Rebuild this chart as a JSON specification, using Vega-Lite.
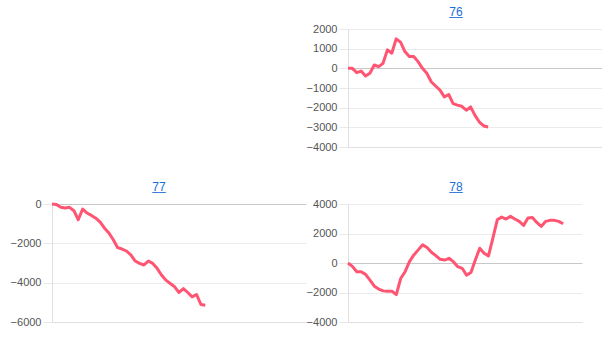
{
  "$schema": "https://vega.github.io/schema/vega-lite/v6.json",
  "padding": {"left": 10, "top": 5, "right": 0, "bottom": 0},
  "background": "white",
  "config": {
    "view": {"stroke": null},
    "font": "Liberation Sans",
    "title": {"fontSize": 12, "fontWeight": "normal", "color": "#1a6fd8", "offset": 3, "subtitleFontSize": 12, "subtitleColor": "#1a6fd8", "subtitlePadding": -13},
    "axis": {"labelFont": "Liberation Sans", "labelFontSize": 11, "labelColor": "#555555", "domainColor": "#e0e0e0", "ticks": true, "tickSize": 9, "tickColor": "#e8e8e8", "labelPadding": 2, "title": null, "format": "d", "labelOverlap": false,
      "gridColor": {"condition": {"test": "datum.value === 0", "value": "#c8c8c8"}, "value": "#ebebeb"}}
  },
  "datasets": {
    "d76": [
      {"g": 0, "v": 0}, {"g": 1, "v": 0}, {"g": 2, "v": -220}, {"g": 3, "v": -140}, {"g": 4, "v": -390},
      {"g": 5, "v": -250}, {"g": 6, "v": 170}, {"g": 7, "v": 85}, {"g": 8, "v": 255}, {"g": 9, "v": 940},
      {"g": 10, "v": 770}, {"g": 11, "v": 1500}, {"g": 12, "v": 1330}, {"g": 13, "v": 850}, {"g": 14, "v": 600},
      {"g": 15, "v": 600}, {"g": 16, "v": 340}, {"g": 17, "v": 0}, {"g": 18, "v": -250}, {"g": 19, "v": -680},
      {"g": 20, "v": -900}, {"g": 21, "v": -1110}, {"g": 22, "v": -1450}, {"g": 23, "v": -1330}, {"g": 24, "v": -1790},
      {"g": 25, "v": -1870}, {"g": 26, "v": -1930}, {"g": 27, "v": -2130}, {"g": 28, "v": -1960}, {"g": 29, "v": -2390},
      {"g": 30, "v": -2730}, {"g": 31, "v": -2930}, {"g": 32, "v": -2980}
    ],
    "d77": [
      {"g": 0, "v": 0}, {"g": 1, "v": -30}, {"g": 2, "v": -170}, {"g": 3, "v": -200}, {"g": 4, "v": -170},
      {"g": 5, "v": -340}, {"g": 6, "v": -800}, {"g": 7, "v": -255}, {"g": 8, "v": -460}, {"g": 9, "v": -580},
      {"g": 10, "v": -720}, {"g": 11, "v": -920}, {"g": 12, "v": -1230}, {"g": 13, "v": -1480}, {"g": 14, "v": -1820},
      {"g": 15, "v": -2220}, {"g": 16, "v": -2290}, {"g": 17, "v": -2390}, {"g": 18, "v": -2590}, {"g": 19, "v": -2900},
      {"g": 20, "v": -3020}, {"g": 21, "v": -3100}, {"g": 22, "v": -2900}, {"g": 23, "v": -3020}, {"g": 24, "v": -3270},
      {"g": 25, "v": -3610}, {"g": 26, "v": -3870}, {"g": 27, "v": -4040}, {"g": 28, "v": -4210}, {"g": 29, "v": -4500},
      {"g": 30, "v": -4300}, {"g": 31, "v": -4500}, {"g": 32, "v": -4720}, {"g": 33, "v": -4600}, {"g": 34, "v": -5110},
      {"g": 35, "v": -5150}
    ],
    "d78": [
      {"g": 0, "v": 0}, {"g": 1, "v": -230}, {"g": 2, "v": -590}, {"g": 3, "v": -590}, {"g": 4, "v": -770},
      {"g": 5, "v": -1160}, {"g": 6, "v": -1570}, {"g": 7, "v": -1770}, {"g": 8, "v": -1890}, {"g": 9, "v": -1910},
      {"g": 10, "v": -1910}, {"g": 11, "v": -2140}, {"g": 12, "v": -1050}, {"g": 13, "v": -590}, {"g": 14, "v": 90},
      {"g": 15, "v": 550}, {"g": 16, "v": 890}, {"g": 17, "v": 1230}, {"g": 18, "v": 1050}, {"g": 19, "v": 730},
      {"g": 20, "v": 500}, {"g": 21, "v": 250}, {"g": 22, "v": 200}, {"g": 23, "v": 320}, {"g": 24, "v": 90},
      {"g": 25, "v": -250}, {"g": 26, "v": -360}, {"g": 27, "v": -820}, {"g": 28, "v": -640}, {"g": 29, "v": 200},
      {"g": 30, "v": 1000}, {"g": 31, "v": 660}, {"g": 32, "v": 480}, {"g": 33, "v": 1680}, {"g": 34, "v": 2930},
      {"g": 35, "v": 3110}, {"g": 36, "v": 2980}, {"g": 37, "v": 3160}, {"g": 38, "v": 2980}, {"g": 39, "v": 2820},
      {"g": 40, "v": 2550}, {"g": 41, "v": 3050}, {"g": 42, "v": 3090}, {"g": 43, "v": 2750}, {"g": 44, "v": 2480},
      {"g": 45, "v": 2820}, {"g": 46, "v": 2890}, {"g": 47, "v": 2890}, {"g": 48, "v": 2820}, {"g": 49, "v": 2660}
    ]
  },
  "concat": [
    {
      "width": 254, "height": 118,
      "data": {"values": [{"g": 0}]},
      "mark": {"type": "point", "opacity": 0},
      "encoding": {"x": {"field": "g", "type": "quantitative", "axis": null}}
    },
    {
      "width": 254, "height": 118,
      "title": {"text": "76", "subtitle": "__", "dx": -19},
      "data": {"name": "d76"},
      "mark": {"type": "line", "color": "#ff5572", "strokeWidth": 3, "strokeJoin": "round"},
      "encoding": {
        "x": {"field": "g", "type": "quantitative", "scale": {"domain": [0, 58]}, "axis": {"labels": false, "ticks": false, "grid": false, "domain": true}},
        "y": {"field": "v", "type": "quantitative", "scale": {"domain": [-4000, 2000], "nice": false}, "axis": {"values": [-4000, -3000, -2000, -1000, 0, 1000, 2000], "domain": true, "grid": true}}
      }
    },
    {
      "width": 254, "height": 118,
      "title": {"text": "77", "subtitle": "__", "dx": -20},
      "data": {"name": "d77"},
      "mark": {"type": "line", "color": "#ff5572", "strokeWidth": 3, "strokeJoin": "round"},
      "encoding": {
        "x": {"field": "g", "type": "quantitative", "scale": {"domain": [0, 58]}, "axis": {"labels": false, "ticks": false, "grid": false, "domain": true}},
        "y": {"field": "v", "type": "quantitative", "scale": {"domain": [-6000, 0], "nice": false}, "axis": {"values": [-6000, -4000, -2000, 0], "domain": true, "grid": true}}
      }
    },
    {
      "width": 234, "height": 118,
      "title": {"text": "78", "subtitle": "__", "dx": -9},
      "data": {"name": "d78"},
      "mark": {"type": "line", "color": "#ff5572", "strokeWidth": 3, "strokeJoin": "round"},
      "encoding": {
        "x": {"field": "g", "type": "quantitative", "scale": {"domain": [0, 53.3]}, "axis": {"labels": false, "ticks": false, "grid": false, "domain": true}},
        "y": {"field": "v", "type": "quantitative", "scale": {"domain": [-4000, 4000], "nice": false}, "axis": {"values": [-4000, -2000, 0, 2000, 4000], "domain": true, "grid": true}}
      }
    }
  ],
  "columns": 2,
  "spacing": {"column": 0, "row": 28}
}
